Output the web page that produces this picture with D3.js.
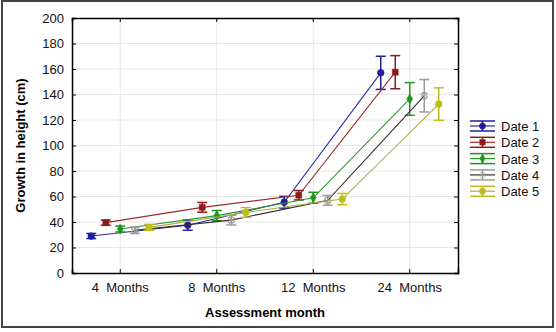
<!DOCTYPE html>
<html lang="en">
  <head>
    <meta charset="UTF-8" />
    <script src="https://d3js.org/d3.v7.min.js"></script>
    <style>
      body { margin: 0; background: #fff; }
      text { font-family: "Liberation Sans", Arial, sans-serif; }
    </style>
  </head>
  <body>
    <script>
      const months = ['4  Months', '8  Months', '12  Months', '24  Months']
      const seriesNames = ['Date 1', 'Date 2', 'Date 3', 'Date 4', 'Date 5']
      const yTicks = [0, 20, 40, 60, 80, 100, 120, 140, 160, 180, 200]

      // means, one array per date
      const date1 = [29, 37.5, 55.5, 157]
      const date2 = [39.5, 51.5, 61, 157.5]
      const date3 = [34.5, 45, 59, 136.5]
      const date4 = [33.5, 41.5, 57, 139]
      const date5 = [35.8, 47.5, 58, 132.5]
      // error half widths
      const err1 = [2, 4, 4.6, 13]
      const err2 = [2, 3.8, 3.7, 13]
      const err3 = [2.3, 4, 4.3, 12.8]
      const err4 = [2.5, 3.8, 3.8, 12.7]
      const err5 = [2.3, 3.8, 4.4, 12.7]

      const means = [date1, date2, date3, date4, date5]
      const errs = [err1, err2, err3, err4, err5]
      const colors = ['#1f1f99', '#8e1b1b', '#1e971e', '#9a9a9a', '#bdbd1c']
      const lineColors = ['#2a2aa8', '#a02a2a', '#2a9a2a', '#3c2a2a', '#b0ad3a']
      const shapes = [d3.symbolCircle, d3.symbolSquare, d3.symbolDiamond, d3.symbolCross, d3.symbolCircle]

      const width = 556
      const height = 332
      const m = { left: 72, top: 18, right: 98, bottom: 59 }

      const svg = d3.select('body')
        .append('svg')
        .attr('width', width)
        .attr('height', height)

      // outer frame
      svg.append('rect')
        .attr('x', 2).attr('y', 1)
        .attr('width', 551).attr('height', 326)
        .attr('fill', 'none')
        .attr('stroke', '#444')
        .attr('stroke-width', 2)

      const x = d3.scaleBand()
        .domain(months)
        .range([m.left, width - m.right])
        .padding(0)

      const off = d3.scalePoint()
        .domain(seriesNames)
        .range([-29, 29])

      const y = d3.scaleLinear()
        .domain([0, 200])
        .range([height - m.bottom, m.top])

      const cx = function (i) { return x(months[i]) + x.bandwidth() / 2 }

      // grid
      const grid = svg.append('g')
      grid.selectAll('.hg')
        .data(yTicks.slice(1, -1))
        .join('line')
        .attr('x1', m.left).attr('x2', width - m.right)
        .attr('y1', d => y(d)).attr('y2', d => y(d))
        .attr('stroke', '#e6e6e6')
      grid.selectAll('.vg')
        .data(months)
        .join('line')
        .attr('x1', d => x(d) + x.bandwidth() / 2).attr('x2', d => x(d) + x.bandwidth() / 2)
        .attr('y1', m.top).attr('y2', height - m.bottom)
        .attr('stroke', '#e6e6e6')

      // axes
      const yAxis = d3.axisLeft(y).tickValues(yTicks).tickSize(-4).tickPadding(8)
      const gy = svg.append('g')
        .attr('transform', 'translate(' + m.left + ',0)')
        .call(yAxis)
      const gyr = svg.append('g')
        .attr('transform', 'translate(' + (width - m.right) + ',0)')
        .call(d3.axisRight(y).tickValues(yTicks).tickSize(-4).tickFormat(''))
      const xAxis = d3.axisBottom(x).tickSize(-4).tickPadding(10)
      const gx = svg.append('g')
        .attr('transform', 'translate(0,' + (height - m.bottom) + ')')
        .call(xAxis)
      const gxt = svg.append('g')
        .attr('transform', 'translate(0,' + m.top + ')')
        .call(d3.axisTop(x).tickSize(-4).tickFormat(''))

      svg.selectAll('.domain').attr('stroke', '#000').attr('stroke-width', 1.5)
      svg.selectAll('.tick line').attr('stroke', '#000')
      svg.selectAll('.tick text')
        .attr('font-size', 13)
        .attr('fill', '#111')
        .style('font-family', '"Liberation Sans", Arial, sans-serif')
      gx.selectAll('.tick text').style('white-space', 'pre').attr('xml:space', 'preserve')

      // labels
      svg.append('text')
        .attr('x', (m.left + width - m.right) / 2)
        .attr('y', 317)
        .attr('text-anchor', 'middle')
        .attr('font-size', 13)
        .attr('font-weight', 'bold')
        .text('Assessment month')
      svg.append('text')
        .attr('transform', 'translate(25,' + (m.top + (height - m.bottom - m.top) / 2) + ') rotate(-90)')
        .attr('text-anchor', 'middle')
        .attr('font-size', 13)
        .attr('font-weight', 'bold')
        .text('Growth in height (cm)')

      // series
      const line = d3.line()
      means.forEach(function (vals, s) {
        const pts = vals.map((v, i) => [cx(i) + off(seriesNames[s]), y(v)])
        svg.append('path')
          .attr('d', line(pts))
          .attr('fill', 'none')
          .attr('stroke', lineColors[s])
          .attr('stroke-width', 1.1)

        const g = svg.append('g')
        vals.forEach(function (v, i) {
          const px = cx(i) + off(seriesNames[s])
          const lo = y(v - errs[s][i])
          const hi = y(v + errs[s][i])
          g.append('line').attr('x1', px).attr('x2', px).attr('y1', lo).attr('y2', hi)
            .attr('stroke', colors[s]).attr('stroke-width', 1.5)
          g.append('line').attr('x1', px - 5).attr('x2', px + 5).attr('y1', lo).attr('y2', lo)
            .attr('stroke', colors[s]).attr('stroke-width', 1.5)
          g.append('line').attr('x1', px - 5).attr('x2', px + 5).attr('y1', hi).attr('y2', hi)
            .attr('stroke', colors[s]).attr('stroke-width', 1.5)
          g.append('path')
            .attr('transform', 'translate(' + px + ',' + y(v) + ')' + (s === 3 ? ' rotate(45)' : ''))
            .attr('d', d3.symbol().type(shapes[s]).size(s === 2 ? 30 : s === 3 ? 25 : 36)())
            .attr('fill', s === 3 ? 'none' : colors[s])
            .attr('stroke', colors[s])
            .attr('stroke-width', s === 3 ? 1 : 0.5)
        })
      })

      // legend
      const leg = svg.append('g').attr('transform', 'translate(470,126)')
      seriesNames.forEach(function (name, s) {
        const r = leg.append('g').attr('transform', 'translate(0,' + s * 16.3 + ')')
        r.append('line').attr('x1', 0).attr('x2', 25).attr('y1', -5).attr('y2', -5)
          .attr('stroke', colors[s]).attr('stroke-width', 1.5)
        r.append('line').attr('x1', 0).attr('x2', 25).attr('y1', 5).attr('y2', 5)
          .attr('stroke', colors[s]).attr('stroke-width', 1.5)
        r.append('line').attr('x1', 0).attr('x2', 25).attr('y1', 0).attr('y2', 0)
          .attr('stroke', lineColors[s]).attr('stroke-width', 1.2)
        r.append('line').attr('x1', 12.5).attr('x2', 12.5).attr('y1', -5).attr('y2', 5)
          .attr('stroke', colors[s]).attr('stroke-width', 1.5)
        r.append('path')
          .attr('transform', 'translate(12.5,0)' + (s === 3 ? ' rotate(45)' : ''))
          .attr('d', d3.symbol().type(shapes[s]).size(s === 2 ? 25 : s === 3 ? 20 : 30)())
          .attr('fill', s === 3 ? 'none' : colors[s])
          .attr('stroke', colors[s])
          .attr('stroke-width', 0.5)
        r.append('text')
          .attr('x', 31).attr('y', 5)
          .attr('font-size', 13)
          .attr('fill', '#111')
          .text(name)
      })
    </script>
  </body>
</html>
